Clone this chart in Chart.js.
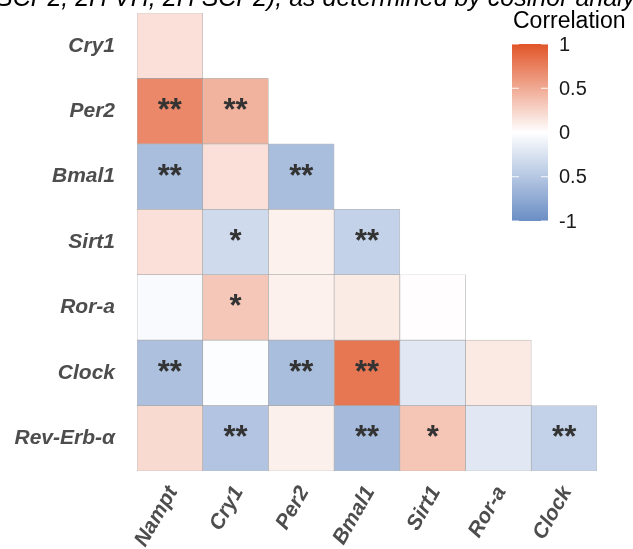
<!DOCTYPE html>
<html>
<head>
<meta charset="utf-8">
<script src="https://cdn.jsdelivr.net/npm/chart.js@4"></script>
<style>
  html, body { margin: 0; padding: 0; background: #fff; overflow: hidden; }
  canvas { display: block; }
</style>
</head>
<body>
<canvas id="heat" width="633" height="549"></canvas>
<script>
// Data
const columns = ['Nampt', 'Cry1', 'Per2', 'Bmal1', 'Sirt1', 'Ror-a', 'Clock'];
const rows = ['Cry1', 'Per2', 'Bmal1', 'Sirt1', 'Ror-a', 'Clock', 'Rev-Erb-α'];
const corrCry1 = [0.18];
const corrPer2 = [0.70, 0.45];
const corrBmal1 = [-0.58, 0.18, -0.58];
const corrSirt1 = [0.18, -0.32, 0.08, -0.40];
const corrRora = [-0.04, 0.33, 0.08, 0.12, 0.01];
const corrClock = [-0.55, -0.02, -0.58, 0.80, -0.20, 0.13];
const corrRevErb = [0.22, -0.52, 0.09, -0.60, 0.34, -0.20, -0.40];
const corr = [corrCry1, corrPer2, corrBmal1, corrSirt1, corrRora, corrClock, corrRevErb];
const signif = [
    [''],
    ['**', '**'],
    ['**', '', '**'],
    ['', '*', '', '**'],
    ['', '*', '', '', ''],
    ['**', '', '**', '**', '', ''],
    ['', '**', '', '**', '*', '', '**']
];
const legendTicks = [1, 0.5, 0, -0.5, -1];
const legendLabels = ['1', '0.5', '0', '0.5', '-1'];
const titleText = 'SCP2, 2H VH, 2H SCP2), as determined by cosinor analysis';

// Colour scale: low -> white -> high
const lowCol = [106, 142, 197];
const highCol = [225, 85, 40];
function corrColor(v) {
    const end = v >= 0 ? highCol : lowCol;
    const t = Math.min(Math.abs(v), 1);
    const c = end.map(e => Math.round(255 + (e - 255) * t));
    return `rgb(${c[0]},${c[1]},${c[2]})`;
}

const nRows = rows.length;
const datasets = rows.map((r, i) => ({
    label: r,
    data: columns.map((c, j) => (j < corr[i].length ? [nRows - 1 - i, nRows - i] : null)),
    backgroundColor: columns.map((c, j) => (j < corr[i].length ? corrColor(corr[i][j]) : 'rgba(0,0,0,0)')),
    borderColor: 'rgba(130,130,130,0.55)',
    borderWidth: 0.7,
    borderSkipped: false,
    grouped: false,
    barPercentage: 1,
    categoryPercentage: 1
}));

// Asterisks in the cells
const starsPlugin = {
    id: 'stars',
    afterDatasetsDraw(chart) {
        const ctx = chart.ctx;
        ctx.save();
        ctx.font = 'bold 31px "Liberation Sans", Arial, sans-serif';
        ctx.fillStyle = '#333333';
        ctx.textAlign = 'center';
        ctx.textBaseline = 'alphabetic';
        chart.data.datasets.forEach((ds, i) => {
            const meta = chart.getDatasetMeta(i);
            meta.data.forEach((el, j) => {
                const s = signif[i][j];
                if (!s) return;
                const cy = (el.y + el.base) / 2;
                ctx.fillText(s, el.x, cy + 9);
            });
        });
        ctx.restore();
    }
};

// Colour bar legend and clipped title
const legendPlugin = {
    id: 'colorbar',
    afterDraw(chart) {
        const ctx = chart.ctx;
        const x0 = 512, w = 36, yTop = 44, yBot = 221;
        ctx.save();
        const grad = ctx.createLinearGradient(0, yTop, 0, yBot);
        for (let k = 0; k <= 20; k++) {
            const v = 1 - k / 10;
            grad.addColorStop(k / 20, corrColor(v));
        }
        ctx.fillStyle = grad;
        ctx.fillRect(x0, yTop, w, yBot - yTop);

        ctx.font = '20px "Liberation Sans", Arial, sans-serif';
        ctx.textBaseline = 'middle';
        ctx.textAlign = 'left';
        legendTicks.forEach((v, k) => {
            const y = yTop + (1 - v) / 2 * (yBot - yTop);
            ctx.strokeStyle = 'rgba(255,255,255,0.9)';
            ctx.lineWidth = 1;
            ctx.beginPath();
            ctx.moveTo(x0, y); ctx.lineTo(x0 + 7, y);
            ctx.moveTo(x0 + w - 7, y); ctx.lineTo(x0 + w, y);
            ctx.stroke();
            ctx.fillStyle = '#1a1a1a';
            ctx.fillText(legendLabels[k], x0 + 47, y + 1);
        });

        ctx.fillStyle = '#000000';
        ctx.font = '23px "Liberation Sans", Arial, sans-serif';
        ctx.fillText('Correlation', 513, 22);

        ctx.font = 'italic 25px "Liberation Sans", Arial, sans-serif';
        ctx.textBaseline = 'alphabetic';
        ctx.fillText(titleText, -4, 6);
        ctx.restore();
    }
};

const labelFont = { family: '"Liberation Sans", Arial, sans-serif', size: 21, weight: 'bold', style: 'italic' };

new Chart(document.getElementById('heat').getContext('2d'), {
    type: 'bar',
    data: { labels: columns, datasets: datasets },
    options: {
        responsive: false,
        animation: false,
        layout: { padding: { top: 13, right: 36, left: 0, bottom: 0 } },
        plugins: { legend: { display: false }, tooltip: { enabled: false } },
        scales: {
            x: {
                grid: { display: false, drawTicks: false },
                border: { display: false },
                ticks: {
                    font: labelFont,
                    color: '#4d4d4d',
                    autoSkip: false,
                    maxRotation: 60,
                    minRotation: 60,
                    padding: 11,
                    labelOffset: 3
                },
                afterFit(scale) {
                    scale.height = 78;
                    scale.paddingLeft = 0;
                    scale.paddingRight = 0;
                }
            },
            y: {
                min: 0,
                max: nRows,
                grid: { display: false, drawTicks: false },
                border: { display: false },
                afterBuildTicks(scale) {
                    scale.ticks = rows.map((r, i) => ({ value: nRows - 0.5 - i }));
                },
                ticks: {
                    font: labelFont,
                    color: '#4d4d4d',
                    padding: 22,
                    callback: (value) => rows[Math.round(nRows - 0.5 - value)]
                },
                afterFit(scale) {
                    scale.width = 137;
                    scale.paddingTop = 0;
                    scale.paddingBottom = 0;
                }
            }
        }
    },
    plugins: [starsPlugin, legendPlugin]
});
</script>
</body>
</html>
